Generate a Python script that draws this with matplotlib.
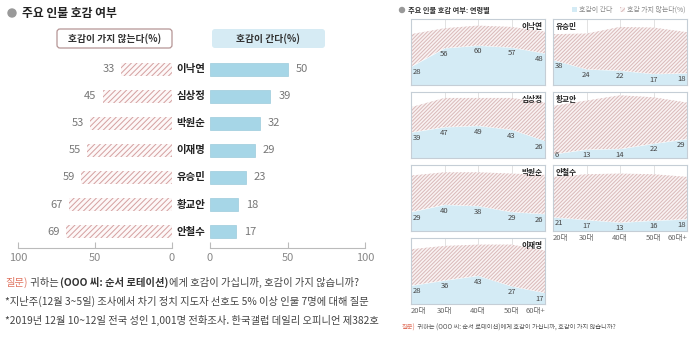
import matplotlib.pyplot as plt
from matplotlib.patches import FancyBboxPatch, Ellipse, Patch

plt.rcParams['font.family'] = ['Noto Sans CJK KR', 'DejaVu Sans']
plt.rcParams['hatch.linewidth'] = 0.7

# overall favourability (%)
names = ['이낙연', '심상정', '박원순', '이재명', '유승민', '황교안', '안철수']
like = [50, 39, 32, 29, 23, 18, 17]
dislike = [33, 45, 53, 55, 59, 67, 69]

# by age group (like / dislike, %), dislike
ages = ['20대', '30대', '40대', '50대', '60대+']
lny_like = [28, 56, 60, 57, 48]
lny_dislike = [49, 30, 30, 31, 33]
ssj_like = [39, 47, 49, 43, 26]
ssj_dislike = [38, 44, 42, 48, 58]
pws_like = [29, 40, 38, 29, 26]
pws_dislike = [55, 49, 51, 58, 59]
ljm_like = [28, 36, 43, 27, 17]
ljm_dislike = [55, 52, 47, 63, 64]
ysm_like = [38, 24, 22, 17, 18]
ysm_dislike = [39, 54, 66, 70, 62]
hka_like = [6, 13, 14, 22, 29]
hka_dislike = [73, 74, 81, 70, 55]
acs_like = [21, 17, 13, 16, 18]
acs_dislike = [61, 69, 74, 70, 64]

W, H = 700, 337
BAR_BLUE = '#a6d6e7'
BAR_HATCH = '#d4a0a0'
AREA_BLUE = '#d4ebf5'
AREA_HATCH = '#d9b9b9'


def px_rect(x0, y0, x1, y1):
    return [x0 / W, 1 - y1 / H, (x1 - x0) / W, (y1 - y0) / H]


fig = plt.figure(figsize=(W / 100, H / 100), dpi=100)

# overlay in pixel units for titles, boxes and notes
ax0 = fig.add_axes([0, 0, 1, 1])
ax0.set_xlim(0, W)
ax0.set_ylim(H, 0)
ax0.axis('off')

# ---- left: butterfly bars ----
ax0.add_patch(Ellipse((12, 13), 8, 8, color='#999999'))
ax0.text(22, 13, '주요 인물 호감 여부', fontsize=8.5, fontweight='bold', va='center', color='#222222')

ax0.add_patch(FancyBboxPatch((57, 29), 115, 19, boxstyle='round,pad=0,rounding_size=3',
                             facecolor='white', edgecolor='#b59595', lw=0.9))
ax0.text(114.5, 38.5, '호감이 가지 않는다(%)', fontsize=7, fontweight='bold', ha='center', va='center', color='#333333')
ax0.add_patch(FancyBboxPatch((212, 29), 113, 19, boxstyle='round,pad=0,rounding_size=3',
                             facecolor='#d6ebf4', edgecolor='none'))
ax0.text(268.5, 38.5, '호감이 간다(%)', fontsize=7, fontweight='bold', ha='center', va='center', color='#333333')

axL = fig.add_axes(px_rect(18, 56, 172, 248))
axR = fig.add_axes(px_rect(210, 56, 365, 248))
rows = list(range(len(names)))

axL.barh(rows, dislike, height=0.48, color='#fdf8f8', edgecolor=BAR_HATCH, hatch='//////', linewidth=0)
axR.barh(rows, like, height=0.48, color=BAR_BLUE, edgecolor='#9ccbdc', linewidth=0.5)
axL.set_xlim(100, 0)
axR.set_xlim(0, 100)

for ax in (axL, axR):
    ax.set_ylim(6.6, -0.48)
    ax.set_xticks([0, 50, 100])
    ax.set_yticks([])
    for s in ('top', 'left', 'right'):
        ax.spines[s].set_visible(False)
    ax.spines['bottom'].set_color('#bbbbbb')
    ax.tick_params(axis='x', direction='in', length=4, color='#bbbbbb', labelcolor='#888888',
                   labelsize=8, pad=3.5)
    ax.patch.set_alpha(0)

for i, (n, a, b) in enumerate(zip(names, like, dislike)):
    axL.text(b + 4, i, str(b), ha='right', va='center', fontsize=8, color='#777777')
    axR.text(a + 5, i, str(a), ha='left', va='center', fontsize=8, color='#777777')
    axR.text(-12.3, i, n, ha='center', va='center', fontsize=7.5, fontweight='bold', color='#222222',
             clip_on=False)

q = ax0.text(5, 282, '질문)', fontsize=7.4, color='#e0735f', va='center')
q2 = ax0.annotate(' 귀하는 ', xy=(1, 0), xycoords=q, fontsize=7.4, color='#444444', va='bottom')
q3 = ax0.annotate('(OOO 씨: 순서 로테이션)', xy=(1, 0), xycoords=q2, fontsize=7.4, color='#333333',
                  fontweight='bold', va='bottom')
ax0.annotate('에게 호감이 가십니까, 호감이 가지 않습니까?', xy=(1, 0), xycoords=q3, fontsize=7.4,
             color='#444444', va='bottom')
ax0.text(5, 301, '*지난주(12월 3~5일) 조사에서 차기 정치 지도자 선호도 5% 이상 인물 7명에 대해 질문',
         fontsize=7.4, color='#444444', va='center')
ax0.text(5, 320, '*2019년 12월 10~12일 전국 성인 1,001명 전화조사. 한국갤럽 데일리 오피니언 제382호',
         fontsize=7.4, color='#444444', va='center')

# ---- right: age-group panels ----
ax0.add_patch(Ellipse((402, 10), 5, 5, color='#999999'))
ax0.text(408, 10, '주요 인물 호감 여부: 연령별', fontsize=5.2, fontweight='bold', va='center', color='#333333')
fig.legend(handles=[Patch(facecolor=AREA_BLUE, label='호감이 간다'),
                    Patch(facecolor='#faf4f4', edgecolor=AREA_HATCH, hatch='//////', lw=0,
                          label='호감 가지 않는다(%)')],
           loc='center right', bbox_to_anchor=(692 / W, 1 - 10 / H), ncol=2, frameon=False,
           fontsize=5, handlelength=0.7, handleheight=0.7, columnspacing=1.2, handletextpad=0.3,
           labelcolor='#888888')

panels = [
    ('이낙연', lny_like, lny_dislike, 0, 0),
    ('심상정', ssj_like, ssj_dislike, 0, 1),
    ('박원순', pws_like, pws_dislike, 0, 2),
    ('이재명', ljm_like, ljm_dislike, 0, 3),
    ('유승민', ysm_like, ysm_dislike, 1, 0),
    ('황교안', hka_like, hka_dislike, 1, 1),
    ('안철수', acs_like, acs_dislike, 1, 2),
]
col_x = [411, 553]
row_y = [19, 92, 165, 238]
x = list(range(len(ages)))

for name, lk, dl, c, r in panels:
    x0, y0 = col_x[c], row_y[r]
    ax = fig.add_axes(px_rect(x0, y0, x0 + 134, y0 + 66))
    top = [a + b for a, b in zip(lk, dl)]
    for g in (1, 2, 3):
        ax.axvline(g, color='#dddddd', lw=0.6, zorder=0)
    ax.fill_between(x, 0, lk, color=AREA_BLUE, lw=0, zorder=1)
    ax.fill_between(x, lk, top, facecolor='#f9f2f2', edgecolor=AREA_HATCH, hatch='/////////',
                    lw=0, zorder=1)
    ax.set_xlim(0, 4)
    ax.set_ylim(0, 100)
    ax.set_yticks([])
    for s in ax.spines.values():
        s.set_color('#c5ced6')
        s.set_linewidth(0.8)
    if c == 0:
        ax.text(3.92, 88, name, ha='right', va='center', fontsize=5.5, fontweight='bold', color='#222222')
    else:
        ax.text(0.08, 88, name, ha='left', va='center', fontsize=5.5, fontweight='bold', color='#222222')
    for i, v in enumerate(lk):
        ha = 'left' if i == 0 else ('right' if i == 4 else 'center')
        xi = 0.04 if i == 0 else (3.96 if i == 4 else i)
        ax.text(xi, max(v - 9, 4), str(v), ha=ha, va='center', fontsize=5.5, color='#444444', zorder=3)
    if (c == 0 and r == 3) or (c == 1 and r == 2):
        ax.set_xticks(x)
        ax.set_xticklabels(ages)
        ax.tick_params(axis='x', length=0, labelsize=5.5, labelcolor='#666666', pad=2)
        labels = ax.get_xticklabels()
        labels[0].set_ha('left')
        labels[-1].set_ha('right')
    else:
        ax.set_xticks([])

n1 = ax0.text(402, 328, '질문)', fontsize=4.5, color='#e0735f', va='center')
ax0.annotate(' 귀하는 (OOO 씨: 순서 로테이션)에게 호감이 가십니까, 호감이 가지 않습니까?',
             xy=(1, 0), xycoords=n1, fontsize=4.5, color='#555555', va='bottom')

fig.savefig('out.png', dpi=100)
